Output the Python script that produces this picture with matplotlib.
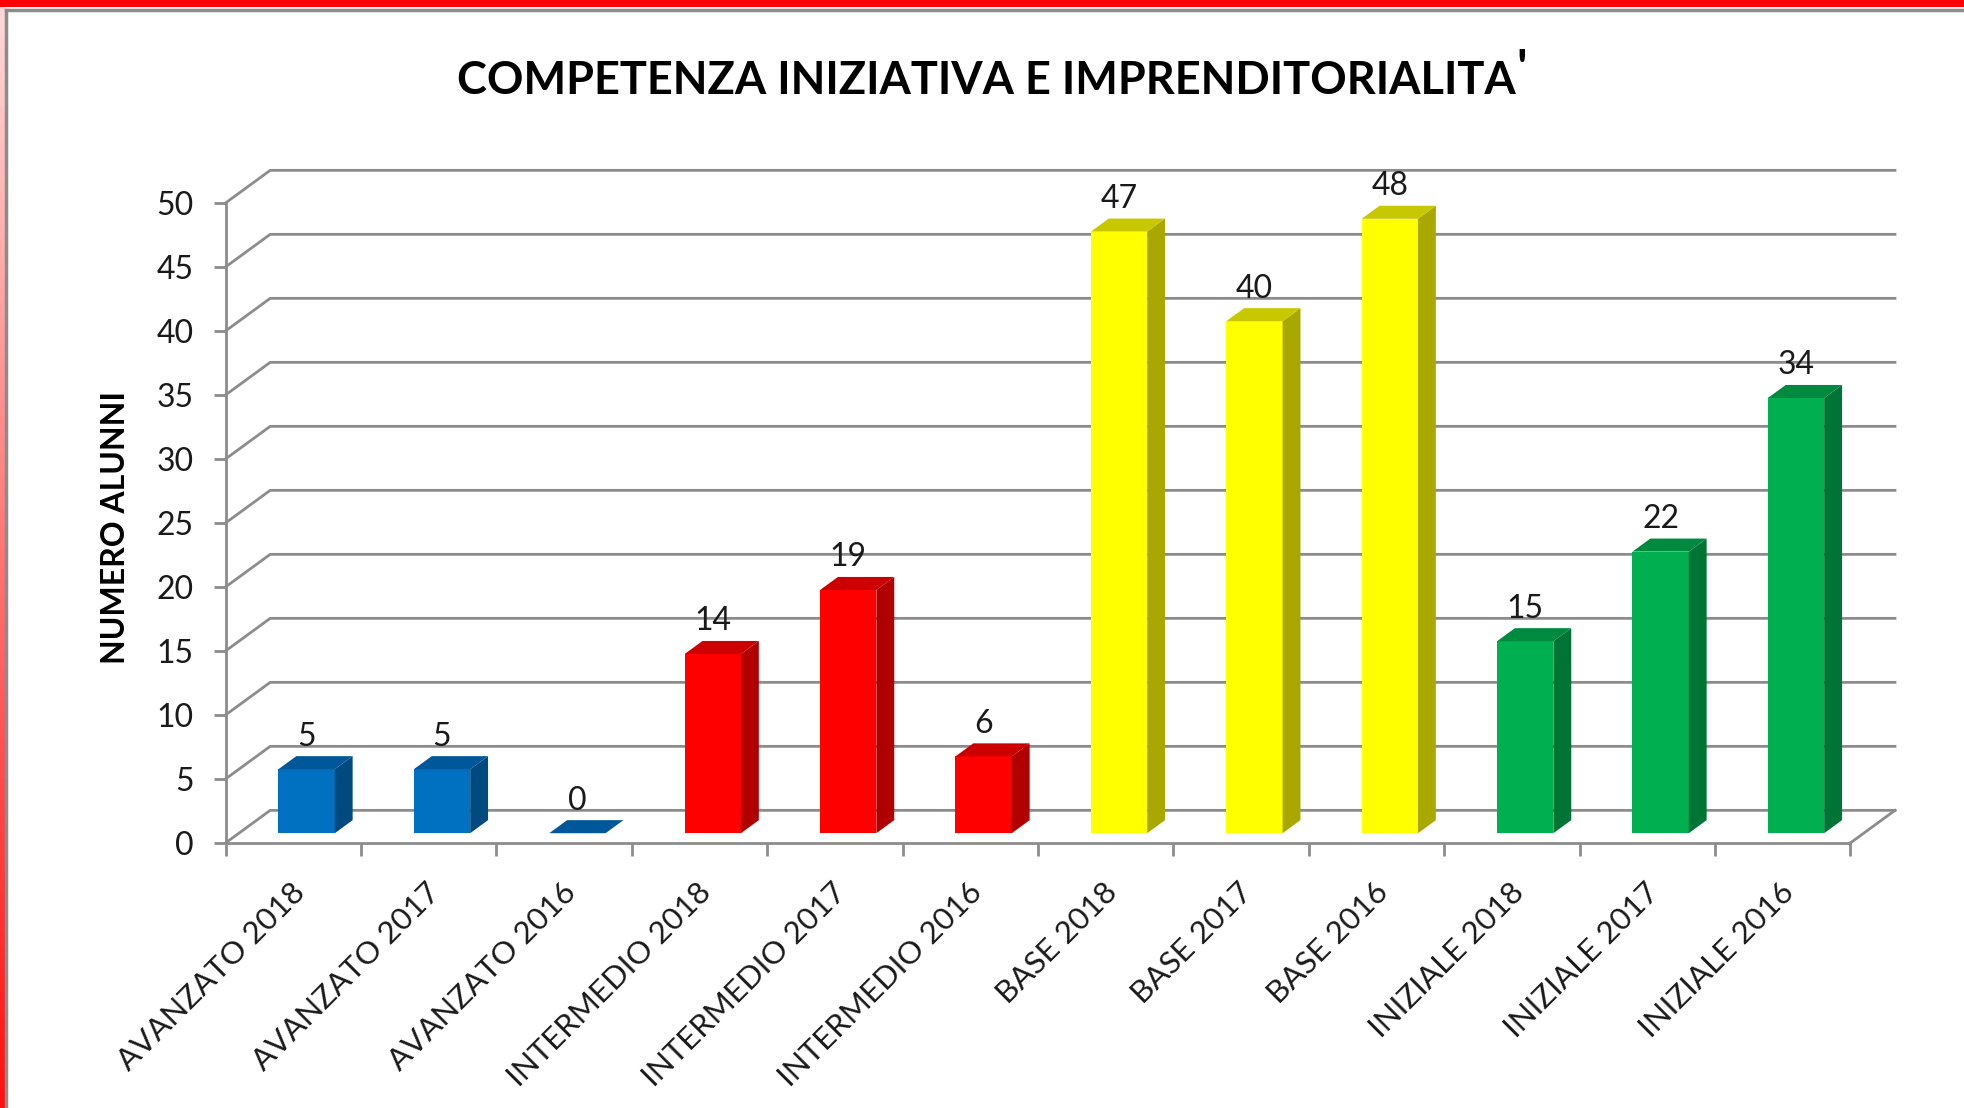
import numpy as np
import matplotlib.pyplot as plt
from matplotlib.patches import Polygon, Rectangle
from matplotlib.colors import LinearSegmentedColormap

plt.rcParams['font.family'] = ['Lato', 'DejaVu Sans']

# --- dati ---
title = "COMPETENZA INIZIATIVA E IMPRENDITORIALITA"
title_mark = "'"
y_label = "NUMERO ALUNNI"
categories = ["AVANZATO 2018", "AVANZATO 2017", "AVANZATO 2016",
              "INTERMEDIO 2018", "INTERMEDIO 2017", "INTERMEDIO 2016",
              "BASE 2018", "BASE 2017", "BASE 2016",
              "INIZIALE 2018", "INIZIALE 2017", "INIZIALE 2016"]
values = [5, 5, 0, 14, 19, 6, 47, 40, 48, 15, 22, 34]
y_ticks = [0, 5, 10, 15, 20, 25, 30, 35, 40, 45, 50]

# colori: faccia frontale, laterale, superiore
front_col = ["#0070C0"] * 3 + ["#FF0000"] * 3 + ["#FFFF00"] * 3 + ["#00B050"] * 3
side_col = ["#004A80"] * 3 + ["#B00000"] * 3 + ["#A8A800"] * 3 + ["#007434"] * 3
top_col = ["#00589A"] * 3 + ["#CC0000"] * 3 + ["#C8C800"] * 3 + ["#008A40"] * 3

GRAY = "#8c8c8c"
W, H = 1964, 1108

# prospettiva obliqua (stile Excel 3D)
DX, DY = 0.33, 2.55      # profondita' totale in categorie / unita'
D0, D1 = 0.30, 0.70      # posizione delle barre nella profondita'
HALF = 0.208             # mezza larghezza barra
XMAX, YMAX = 12.4, 53.0

fig = plt.figure(figsize=(W / 100, H / 100), dpi=100)

px_cat, px_unit = 135.4, 12.8
x0, y0 = 225.5, 843
ax = fig.add_axes([x0 / W, (H - y0) / H, XMAX * px_cat / W, YMAX * px_unit / H])
ax.set_xlim(0, XMAX)
ax.set_ylim(0, YMAX)
ax.set_facecolor('none')

for s in ['top', 'right']:
    ax.spines[s].set_visible(False)
ax.spines['left'].set_bounds(0, 50)
ax.spines['bottom'].set_bounds(0, len(categories))
for s in ['left', 'bottom']:
    ax.spines[s].set_color(GRAY)
    ax.spines[s].set_linewidth(2.0)

ax.set_yticks(y_ticks)
ax.set_xticks(range(len(categories) + 1))
ax.set_xticklabels([])
ax.tick_params(direction='out', length=9, width=2.0, color=GRAY)
ax.tick_params(axis='y', labelsize=23, pad=14, labelcolor='#1a1a1a')

# griglia: pareti laterale e di fondo
n = len(categories)
for v in y_ticks:
    ax.plot([0, DX, n + DX], [v, v + DY, v + DY], color=GRAY, lw=2.0,
            zorder=1, clip_on=False, solid_joinstyle='miter')
ax.plot([n, n + DX], [0, DY], color=GRAY, lw=2.0, zorder=1, clip_on=False)

# barre
pos = np.arange(n) + 0.5
ax.bar(pos + D0 * DX, values, width=2 * HALF, bottom=D0 * DY,
       color=front_col, linewidth=0, zorder=3)

ex, ey = (D1 - D0) * DX, (D1 - D0) * DY
for i, v in enumerate(values):
    xl = pos[i] - HALF + D0 * DX
    xr = pos[i] + HALF + D0 * DX
    yb = D0 * DY
    yt = v + D0 * DY
    if v > 0:
        ax.add_patch(Polygon([(xr, yb), (xr + ex, yb + ey), (xr + ex, yt + ey), (xr, yt)],
                             closed=True, fc=side_col[i], ec='none', zorder=3))
    ax.add_patch(Polygon([(xl, yt), (xr, yt), (xr + ex, yt + ey), (xl + ex, yt + ey)],
                         closed=True, fc=top_col[i], ec='none', zorder=3))
    ax.text(pos[i] + D0 * DX, yt + 1.85, str(v), ha='center', va='baseline',
            fontsize=23, color='#1a1a1a', zorder=4)

# etichette categorie ruotate
for i, cat in enumerate(categories):
    ax.annotate(cat, xy=(pos[i], 0), xycoords=('data', 'data'),
                xytext=(-2, -25), textcoords='offset points',
                rotation=45, ha='right', va='top', rotation_mode='anchor',
                fontsize=22.5, color='#1a1a1a', annotation_clip=False)

t = fig.text(986 / W, 1 - 81 / H, title, ha='center', va='center',
             fontsize=32.5, fontweight='bold', color='black')
ax.annotate(title_mark, xy=(1.0, 1.0), xycoords=t, xytext=(1, 9),
            textcoords='offset points', ha='left', va='top',
            fontsize=36, fontweight='bold', color='black', annotation_clip=False)
fig.text(116 / W, 1 - 527 / H, y_label, ha='center', va='center', rotation=90,
         fontsize=23, fontweight='bold', color='black')

# cornice
fig.add_artist(Rectangle((0, 1 - 7 / H), 1, 7 / H, transform=fig.transFigure,
                         color='#FF0000', lw=0))
fig.add_artist(plt.Line2D([6 / W, 1], [1 - 10 / H, 1 - 10 / H], color=GRAY, lw=2.5))
fig.add_artist(plt.Line2D([6 / W, 6 / W], [0, 1 - 10 / H], color=GRAY, lw=2.5))
strip = fig.add_axes([0, 0, 5 / W, 1 - 7 / H])
strip.axis('off')
cmap = LinearSegmentedColormap.from_list('bordo', ['#ff1010', '#ffd8d8'])
strip.imshow(np.linspace(0, 1, 200).reshape(-1, 1), aspect='auto', cmap=cmap,
             origin='lower', extent=[0, 1, 0, 1])

fig.savefig('out.png', dpi=100)
